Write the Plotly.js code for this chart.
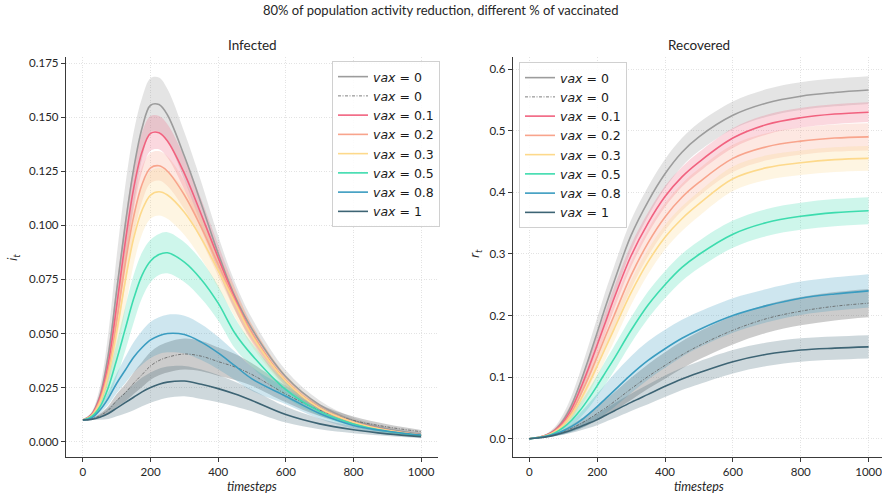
<!DOCTYPE html>
<html>
<head>
<meta charset="utf-8">
<script src="https://cdn.plot.ly/plotly-3.0.1.min.js"></script>
<style>
  html, body { margin: 0; padding: 0; background: #fff; }
  #chart { width: 882px; height: 498px; }
</style>
</head>
<body>
<div id="chart"></div>
<script>
// Simulation time grid (timesteps)
const timesteps = [0, 25, 50, 75, 100, 125, 150, 175, 200, 225, 250, 300, 350, 400, 450, 500, 600, 700, 800, 900, 1000];

// Legend labels, one per run
const vaxLabels = ['0', '0', '0.1', '0.2', '0.3', '0.5', '0.8', '1'];

// Infected fraction i_t: mean curves
const infVax0    = [0.010, 0.0125, 0.021, 0.040, 0.070, 0.100, 0.126, 0.145, 0.1555, 0.1558, 0.151, 0.132, 0.110, 0.087, 0.067, 0.052, 0.030, 0.017, 0.0098, 0.006, 0.0035];
const infVax0b   = [0.010, 0.0105, 0.012, 0.0145, 0.019, 0.0225, 0.027, 0.031, 0.035, 0.0375, 0.039, 0.0405, 0.0395, 0.037, 0.0345, 0.031, 0.022, 0.0145, 0.0098, 0.0068, 0.0046];
const infVax01   = [0.010, 0.0123, 0.020, 0.036, 0.063, 0.092, 0.117, 0.134, 0.1425, 0.1428, 0.139, 0.124, 0.105, 0.085, 0.066, 0.050, 0.028, 0.0155, 0.009, 0.0053, 0.003];
const infVax02   = [0.010, 0.012, 0.019, 0.033, 0.056, 0.082, 0.104, 0.119, 0.1265, 0.1275, 0.125, 0.114, 0.099, 0.082, 0.065, 0.050, 0.028, 0.0155, 0.009, 0.0052, 0.003];
const infVax03   = [0.010, 0.0118, 0.018, 0.031, 0.051, 0.074, 0.094, 0.107, 0.114, 0.1155, 0.114, 0.106, 0.094, 0.079, 0.064, 0.049, 0.028, 0.0155, 0.009, 0.0052, 0.003];
const infVax05   = [0.010, 0.0115, 0.016, 0.025, 0.038, 0.052, 0.066, 0.077, 0.0835, 0.0865, 0.0873, 0.083, 0.075, 0.064, 0.050, 0.040, 0.024, 0.014, 0.0082, 0.0048, 0.0028];
const infVax08   = [0.010, 0.0108, 0.0145, 0.020, 0.027, 0.033, 0.039, 0.0435, 0.047, 0.049, 0.050, 0.0495, 0.046, 0.041, 0.035, 0.029, 0.021, 0.013, 0.0075, 0.0048, 0.0031];
const infVax1    = [0.010, 0.0103, 0.0113, 0.013, 0.0155, 0.018, 0.0205, 0.023, 0.025, 0.0265, 0.0275, 0.028, 0.0265, 0.0245, 0.022, 0.019, 0.0125, 0.0082, 0.0055, 0.0036, 0.0023];

// Infected fraction: spread around each mean
const infVax0Sd  = [0, 0.001, 0.004, 0.010, 0.016, 0.018, 0.017, 0.014, 0.0125, 0.0125, 0.012, 0.011, 0.010, 0.008, 0.0065, 0.005, 0.003, 0.002, 0.0013, 0.001, 0.0008];
const infVax0bSd = [0, 0.0003, 0.001, 0.002, 0.003, 0.004, 0.005, 0.0058, 0.0064, 0.0068, 0.007, 0.0072, 0.007, 0.0065, 0.006, 0.0052, 0.0038, 0.0027, 0.0018, 0.0012, 0.0008];
const infVax01Sd = [0, 0.0008, 0.003, 0.007, 0.010, 0.011, 0.010, 0.009, 0.008, 0.0077, 0.0077, 0.0075, 0.007, 0.006, 0.005, 0.004, 0.0025, 0.0015, 0.001, 0.0007, 0.0005];
const infVax02Sd = [0, 0.0007, 0.0025, 0.006, 0.009, 0.010, 0.009, 0.008, 0.007, 0.0068, 0.0068, 0.0066, 0.006, 0.0055, 0.0045, 0.0035, 0.0022, 0.0014, 0.0009, 0.0006, 0.0005];
const infVax03Sd = [0, 0.0007, 0.003, 0.007, 0.011, 0.013, 0.012, 0.011, 0.011, 0.011, 0.011, 0.0105, 0.0095, 0.008, 0.0065, 0.005, 0.003, 0.0018, 0.0012, 0.0008, 0.0005];
const infVax05Sd = [0, 0.0005, 0.002, 0.005, 0.008, 0.010, 0.011, 0.0105, 0.0098, 0.0095, 0.0095, 0.0092, 0.0088, 0.008, 0.007, 0.0055, 0.0035, 0.002, 0.0013, 0.0008, 0.0005];
const infVax08Sd = [0, 0.0004, 0.0015, 0.003, 0.0045, 0.006, 0.007, 0.0078, 0.0083, 0.0085, 0.0087, 0.0087, 0.0083, 0.0075, 0.0065, 0.0055, 0.0037, 0.0024, 0.0015, 0.001, 0.0006];
const infVax1Sd  = [0, 0.0003, 0.0012, 0.0025, 0.0038, 0.005, 0.006, 0.0066, 0.007, 0.0072, 0.0072, 0.007, 0.0068, 0.0063, 0.0057, 0.005, 0.0037, 0.0025, 0.0016, 0.001, 0.0007];

// Recovered fraction r_t: mean curves
const recVax0    = [0, 0.002, 0.006, 0.014, 0.030, 0.055, 0.090, 0.130, 0.172, 0.215, 0.255, 0.330, 0.385, 0.430, 0.465, 0.490, 0.525, 0.545, 0.556, 0.562, 0.566];
const recVax0b   = [0, 0.0013, 0.0033, 0.0065, 0.011, 0.017, 0.024, 0.032, 0.041, 0.050, 0.060, 0.081, 0.101, 0.119, 0.136, 0.151, 0.176, 0.195, 0.207, 0.215, 0.220];
const recVax01   = [0, 0.002, 0.0055, 0.013, 0.027, 0.049, 0.080, 0.115, 0.152, 0.190, 0.228, 0.297, 0.350, 0.393, 0.425, 0.449, 0.488, 0.510, 0.521, 0.527, 0.530];
const recVax02   = [0, 0.0019, 0.005, 0.012, 0.024, 0.043, 0.070, 0.100, 0.133, 0.167, 0.200, 0.265, 0.318, 0.360, 0.392, 0.416, 0.455, 0.474, 0.483, 0.488, 0.490];
const recVax03   = [0, 0.0018, 0.0048, 0.011, 0.022, 0.039, 0.062, 0.089, 0.118, 0.148, 0.178, 0.237, 0.287, 0.327, 0.357, 0.381, 0.422, 0.440, 0.448, 0.453, 0.455];
const recVax05   = [0, 0.0017, 0.0043, 0.0095, 0.018, 0.030, 0.046, 0.065, 0.086, 0.108, 0.130, 0.176, 0.217, 0.250, 0.278, 0.299, 0.332, 0.351, 0.361, 0.367, 0.370];
const recVax08   = [0, 0.0015, 0.0038, 0.0075, 0.013, 0.020, 0.029, 0.040, 0.052, 0.065, 0.078, 0.104, 0.127, 0.146, 0.163, 0.177, 0.200, 0.216, 0.228, 0.235, 0.240];
const recVax1    = [0, 0.0012, 0.003, 0.0058, 0.0095, 0.014, 0.0195, 0.025, 0.031, 0.038, 0.045, 0.059, 0.072, 0.085, 0.097, 0.107, 0.125, 0.137, 0.144, 0.147, 0.149];

// Recovered fraction: spread around each mean
const recVax0Sd  = [0, 0.0005, 0.002, 0.005, 0.010, 0.015, 0.019, 0.022, 0.024, 0.025, 0.025, 0.025, 0.024, 0.0235, 0.023, 0.023, 0.0225, 0.0225, 0.0225, 0.0225, 0.0225];
const recVax0bSd = [0, 0.0002, 0.0008, 0.002, 0.0035, 0.0055, 0.0075, 0.0095, 0.0115, 0.0135, 0.015, 0.018, 0.020, 0.0215, 0.022, 0.0225, 0.023, 0.023, 0.023, 0.023, 0.023];
const recVax01Sd = [0, 0.0004, 0.0015, 0.004, 0.007, 0.010, 0.013, 0.015, 0.017, 0.018, 0.018, 0.018, 0.017, 0.017, 0.016, 0.016, 0.016, 0.016, 0.016, 0.016, 0.016];
const recVax02Sd = [0, 0.0004, 0.0015, 0.004, 0.007, 0.011, 0.014, 0.017, 0.019, 0.020, 0.021, 0.022, 0.022, 0.022, 0.022, 0.022, 0.022, 0.022, 0.022, 0.022, 0.022];
const recVax03Sd = [0, 0.0004, 0.0014, 0.0035, 0.0065, 0.010, 0.013, 0.016, 0.018, 0.019, 0.020, 0.020, 0.020, 0.020, 0.020, 0.020, 0.020, 0.020, 0.020, 0.020, 0.020];
const recVax05Sd = [0, 0.0003, 0.0012, 0.003, 0.006, 0.009, 0.012, 0.015, 0.017, 0.019, 0.020, 0.021, 0.022, 0.022, 0.022, 0.022, 0.022, 0.022, 0.022, 0.022, 0.022];
const recVax08Sd = [0, 0.0003, 0.001, 0.003, 0.006, 0.009, 0.013, 0.017, 0.021, 0.024, 0.027, 0.030, 0.031, 0.031, 0.030, 0.029, 0.028, 0.027, 0.027, 0.027, 0.027];
const recVax1Sd  = [0, 0.0002, 0.0007, 0.0017, 0.003, 0.0045, 0.006, 0.0075, 0.009, 0.0105, 0.012, 0.014, 0.016, 0.0175, 0.018, 0.0185, 0.019, 0.019, 0.019, 0.019, 0.019];

// Styling per run (same order as vaxLabels)
const runStyles = [
  { color: '#9c9c9c', band: 'rgba(156,156,156,0.27)', width: 1.6, dash: 'solid' },
  { color: '#5e5e5e', band: 'rgba(120,120,120,0.38)', width: 0.8, dash: '3px,1.5px,1px,1.5px' },
  { color: '#f1627f', band: 'rgba(241,98,127,0.25)',  width: 1.6, dash: 'solid' },
  { color: '#f8a48c', band: 'rgba(248,164,140,0.25)', width: 1.6, dash: 'solid' },
  { color: '#fdd98b', band: 'rgba(253,217,139,0.25)', width: 1.6, dash: 'solid' },
  { color: '#3ddcae', band: 'rgba(61,220,174,0.25)',  width: 1.6, dash: 'solid' },
  { color: '#3a9cc0', band: 'rgba(58,156,192,0.25)',  width: 1.6, dash: 'solid' },
  { color: '#3d6474', band: 'rgba(61,100,116,0.25)',  width: 1.6, dash: 'solid' }
];

const infectedRuns = [
  [infVax0, infVax0Sd], [infVax0b, infVax0bSd], [infVax01, infVax01Sd], [infVax02, infVax02Sd],
  [infVax03, infVax03Sd], [infVax05, infVax05Sd], [infVax08, infVax08Sd], [infVax1, infVax1Sd]
];
const recoveredRuns = [
  [recVax0, recVax0Sd], [recVax0b, recVax0bSd], [recVax01, recVax01Sd], [recVax02, recVax02Sd],
  [recVax03, recVax03Sd], [recVax05, recVax05Sd], [recVax08, recVax08Sd], [recVax1, recVax1Sd]
];

function panelTraces(runs, xa, ya, legendId) {
  const bands = [];
  const lines = [];
  runs.forEach(([mean, sd], k) => {
    const st = runStyles[k];
    const lo = mean.map((m, j) => m - sd[j]);
    const hi = mean.map((m, j) => m + sd[j]);
    bands.push({
      x: timesteps, y: lo, xaxis: xa, yaxis: ya, type: 'scatter', mode: 'lines',
      line: { width: 0, shape: 'spline', color: st.band }, showlegend: false, hoverinfo: 'skip'
    });
    bands.push({
      x: timesteps, y: hi, xaxis: xa, yaxis: ya, type: 'scatter', mode: 'lines',
      line: { width: 0, shape: 'spline', color: st.band }, fill: 'tonexty', fillcolor: st.band,
      showlegend: false, hoverinfo: 'skip'
    });
    lines.push({
      x: timesteps, y: mean, xaxis: xa, yaxis: ya, type: 'scatter', mode: 'lines',
      name: '<i>vax</i> = ' + vaxLabels[k], legend: legendId,
      line: { color: st.color, width: st.width, dash: st.dash, shape: 'spline' }
    });
  });
  return bands.concat(lines);
}

const data = panelTraces(infectedRuns, 'x', 'y', 'legend')
  .concat(panelTraces(recoveredRuns, 'x2', 'y2', 'legend2'));

const W = 882, H = 498;
const tickFont = { family: 'Lato, sans-serif', size: 11.5, color: '#262626' };
const axisCommon = {
  showgrid: true, gridcolor: '#dcdcdc', griddash: '1px,1.5px', gridwidth: 0.8,
  showline: true, linecolor: '#3a3a3a', linewidth: 1.2, zeroline: false,
  ticks: 'outside', ticklen: 4, tickwidth: 1, tickcolor: '#3a3a3a',
  tickfont: tickFont, automargin: false, ticklabeloverflow: 'allow'
};
const legendCommon = {
  bgcolor: 'rgba(255,255,255,0.85)', bordercolor: '#d0d0d0', borderwidth: 1,
  font: { family: 'DejaVu Sans, sans-serif', size: 12.5, color: '#1a1a1a' },
  xanchor: 'left', yanchor: 'top', traceorder: 'normal', itemwidth: 30
};
const textFont = { family: 'Lato, sans-serif', size: 13, color: '#262626' };

const layout = {
  width: W, height: H,
  margin: { l: 0, r: 0, t: 0, b: 0 },
  paper_bgcolor: '#ffffff', plot_bgcolor: '#ffffff',
  showlegend: true,
  xaxis: Object.assign({}, axisCommon, {
    domain: [66 / W, 438 / W], range: [-50, 1050], tickvals: [0, 200, 400, 600, 800, 1000], anchor: 'y'
  }),
  yaxis: Object.assign({}, axisCommon, {
    domain: [41 / H, 441 / H], range: [-0.0071, 0.1778], dtick: 0.025, tick0: 0, tickformat: '.3f', anchor: 'x'
  }),
  xaxis2: Object.assign({}, axisCommon, {
    domain: [513 / W, 1], range: [-48, 1039.5], tickvals: [0, 200, 400, 600, 800, 1000], anchor: 'y2'
  }),
  yaxis2: Object.assign({}, axisCommon, {
    domain: [41 / H, 441 / H], range: [-0.0297, 0.6196], dtick: 0.1, tick0: 0, tickformat: '.1f', anchor: 'x2'
  }),
  legend: Object.assign({}, legendCommon, { x: 332 / W, y: 1 - 61 / H }),
  legend2: Object.assign({}, legendCommon, { x: 519 / W, y: 1 - 62 / H }),
  annotations: [
    { text: '80% of population activity reduction, different % of vaccinated', x: 441 / W, y: 1 - 10 / H,
      xref: 'paper', yref: 'paper', showarrow: false, xanchor: 'center', yanchor: 'middle', font: textFont },
    { text: 'Infected', x: 252 / W, y: 1 - 45 / H, xref: 'paper', yref: 'paper', showarrow: false,
      xanchor: 'center', yanchor: 'middle', font: Object.assign({}, textFont, { size: 13.5 }) },
    { text: 'Recovered', x: 699 / W, y: 1 - 45 / H, xref: 'paper', yref: 'paper', showarrow: false,
      xanchor: 'center', yanchor: 'middle', font: Object.assign({}, textFont, { size: 13.5 }) },
    { text: '<i>timesteps</i>', x: 252 / W, y: 1 - 486 / H, xref: 'paper', yref: 'paper', showarrow: false,
      xanchor: 'center', yanchor: 'middle', font: Object.assign({}, textFont, { size: 12.5 }) },
    { text: '<i>timesteps</i>', x: 699 / W, y: 1 - 486 / H, xref: 'paper', yref: 'paper', showarrow: false,
      xanchor: 'center', yanchor: 'middle', font: Object.assign({}, textFont, { size: 12.5 }) },
    { text: '<i>i<sub>t</sub></i>', x: 14 / W, y: 1 - 258 / H, xref: 'paper', yref: 'paper', showarrow: false,
      textangle: -90, xanchor: 'center', yanchor: 'middle', font: Object.assign({}, textFont, { family: 'DejaVu Sans, sans-serif', size: 12 }) },
    { text: '<i>r<sub>t</sub></i>', x: 476 / W, y: 1 - 254 / H, xref: 'paper', yref: 'paper', showarrow: false,
      textangle: -90, xanchor: 'center', yanchor: 'middle', font: Object.assign({}, textFont, { family: 'DejaVu Sans, sans-serif', size: 12 }) }
  ]
};

Plotly.newPlot('chart', data, layout, { displayModeBar: false, staticPlot: true });
</script>
</body>
</html>
